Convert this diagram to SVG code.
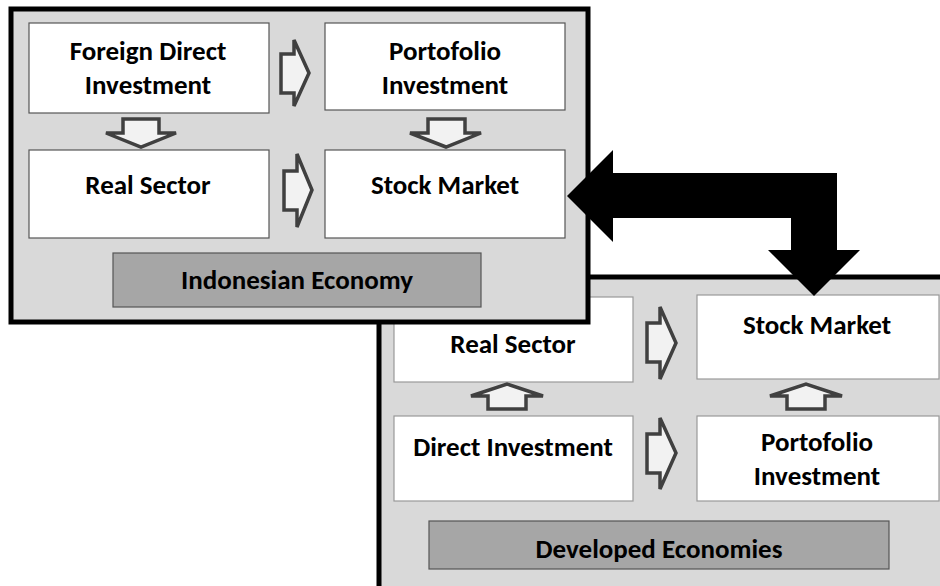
<svg xmlns="http://www.w3.org/2000/svg" width="940" height="586" viewBox="0 0 940 586">
  <style>
    .panel { fill: #d9d9d9; stroke: #000; stroke-width: 5; }
    .box { fill: #fff; stroke: #555; stroke-width: 1.2; }
    .box2 { fill: #fff; stroke: #999; stroke-width: 1.2; }
    .bar { fill: #a6a6a6; stroke: #555; stroke-width: 1.2; }
    .flow { fill: #f2f2f2; stroke: #404040; stroke-width: 3.5; stroke-linejoin: miter; }
    .big { fill: #000; stroke: none; }
    text { font-family: Carlito, "Liberation Sans", Arial, sans-serif; font-weight: bold; font-size: 27px; fill: #000; text-anchor: middle; }
  </style>

  <!-- lower panel: developed economies -->
  <g id="developed-economies">
    <rect class="panel" x="379" y="277" width="570" height="320"/>
    <g id="dev-real-sector">
      <rect class="box2" x="394" y="297" width="239" height="85"/>
      <text x="513" y="353">Real Sector</text>
    </g>
    <g id="dev-stock-market">
      <rect class="box2" x="697" y="295" width="242" height="84"/>
      <text x="817" y="334">Stock Market</text>
    </g>
    <g id="dev-direct-investment">
      <rect class="box2" x="394" y="416" width="239" height="85"/>
      <text x="513" y="456">Direct Investment</text>
    </g>
    <g id="dev-portofolio">
      <rect class="box2" x="697" y="416" width="242" height="85"/>
      <text x="817" y="451">Portofolio</text>
      <text x="817" y="485">Investment</text>
    </g>
    <g id="dev-label">
      <rect class="bar" x="429" y="521" width="460" height="48"/>
      <text x="659" y="558">Developed Economies</text>
    </g>
  </g>

  <!-- upper panel: Indonesian economy -->
  <g id="indonesian-economy">
    <rect class="panel" x="11" y="9" width="577" height="313"/>
    <g id="fdi">
      <rect class="box" x="29" y="23" width="240" height="90"/>
      <text x="148" y="60">Foreign Direct</text>
      <text x="148" y="94">Investment</text>
    </g>
    <g id="portofolio">
      <rect class="box" x="325" y="23" width="240" height="87"/>
      <text x="445" y="60">Portofolio</text>
      <text x="445" y="94">Investment</text>
    </g>
    <g id="real-sector">
      <rect class="box" x="29" y="150" width="240" height="88"/>
      <text x="148" y="194">Real Sector</text>
    </g>
    <g id="stock-market">
      <rect class="box" x="325" y="150" width="240" height="88"/>
      <text x="445" y="194">Stock Market</text>
    </g>
    <g id="indo-label">
      <rect class="bar" x="113" y="253" width="368" height="54"/>
      <text x="297" y="289">Indonesian Economy</text>
    </g>
  </g>

  <!-- connectors -->
  <g id="connectors">
    <!-- Indonesian economy flows -->
    <polygon class="flow" points="281,54 294,54 294,40 309,73 294,106 294,93 281,93"/>
    <polygon class="flow" points="284,171 297,171 297,154 312,190 297,227 297,210 284,210"/>
    <polygon class="flow" points="123,119 159,119 159,133 176,133 141,147 106,133 123,133"/>
    <polygon class="flow" points="428,119 465,119 465,133 481,133 446,147 410,133 428,133"/>
    <!-- developed economies flows -->
    <polygon class="flow" points="647,323 660,323 660,307 676,343 660,379 660,362 647,362"/>
    <polygon class="flow" points="647,434 660,434 660,418 676,453 660,489 660,473 647,473"/>
    <polygon class="flow" points="488,409 526,409 526,396 543,396 507,384 471,396 488,396"/>
    <polygon class="flow" points="787,409 825,409 825,396 842,396 806,384 770,396 787,396"/>
    <!-- two-way link between the stock markets -->
    <polygon class="big" points="567,196 613,150 613,173 837,173 837,250 860,250 814,296 768,250 791,250 791,218 613,218 613,242"/>
  </g>
</svg>
